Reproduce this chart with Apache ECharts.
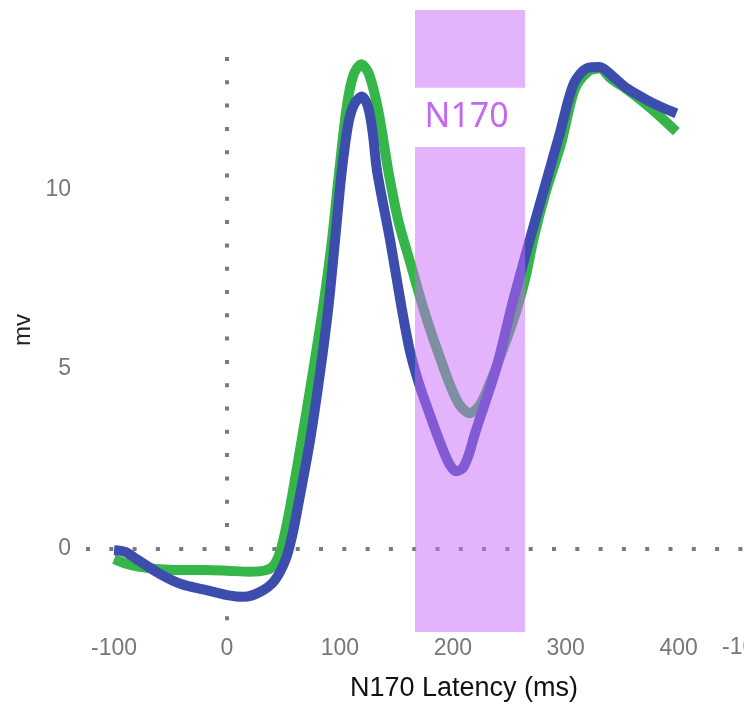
<!DOCTYPE html>
<html><head><meta charset="utf-8">
<script src="https://cdn.jsdelivr.net/npm/echarts@6/dist/echarts.min.js"></script>
<style>html,body{margin:0;padding:0;background:#fff}#c{width:744px;height:714px}</style>
</head><body><div id="c"></div>
<script>
// ---- data ----
const latencyTicks = [-100, 0, 100, 200, 300, 400];
const mvTicks = [0, 5, 10];
const extraTickText = "-100";

const greenTimes  = [-100, -90, -80, -60, -40, -20, 0, 20, 35, 42, 48, 55, 66, 76, 85, 93, 99, 106, 112, 119, 126, 134, 143, 152, 162, 172, 181, 190, 197, 206, 215, 224, 234, 245, 256, 264, 272, 282, 296, 308, 320, 330, 340, 354, 372, 385, 398];
const greenValues = [-0.3, -0.42, -0.5, -0.58, -0.6, -0.6, -0.62, -0.65, -0.6, -0.45, 0.0, 1.0, 3.0, 4.9, 6.7, 8.6, 10.4, 12.3, 13.2, 13.5, 13.2, 12.2, 10.5, 9.1, 8.0, 6.9, 6.0, 5.2, 4.6, 4.0, 3.77, 4.0, 4.7, 5.6, 6.6, 7.5, 8.7, 9.9, 11.3, 12.8, 13.3, 13.38, 13.1, 12.8, 12.36, 12.0, 11.62];

const blueTimes  = [-100, -90, -80, -60, -40, -20, 0, 15, 30, 42, 52, 58, 63, 73.5, 82.4, 89.7, 95.7, 101.6, 107.5, 113, 119.5, 125, 129, 133, 144.4, 154.7, 162, 170, 180, 190, 197, 203, 209, 214, 219.7, 229, 238.9, 253.6, 269.9, 282, 295, 307, 319, 330, 342, 354, 372, 385, 398];
const blueValues = [-0.05, -0.1, -0.3, -0.7, -1.0, -1.15, -1.3, -1.35, -1.2, -0.9, -0.3, 0.4, 1.2, 3.0, 4.9, 6.7, 8.6, 10.5, 11.85, 12.4, 12.6, 12.3, 11.6, 10.5, 8.6, 6.7, 5.5, 4.6, 3.7, 2.85, 2.35, 2.15, 2.25, 2.6, 3.21, 4.1, 5.07, 6.93, 8.8, 10.15, 11.6, 12.95, 13.39, 13.42, 13.15, 12.83, 12.5, 12.3, 12.13];

const n170Window = [166.5, 264];        // ms
const n170LabelGap = [11.19, 12.84];    // mv gap in band where label sits
const n170Label = "N170";

// ---- chart ----
const xMin = -124.9, xMax = 457.9, yMin = -2.33, yMax = 15.01;
const chart = echarts.init(document.getElementById('c'), null, {renderer: 'canvas'});
const toPairs = (xs, ys) => xs.map((x, i) => [x, ys[i]]);
const bandData = [
  [n170Window[0], n170Window[1], yMin, n170LabelGap[0]],
  [n170Window[0], n170Window[1], n170LabelGap[1], yMax]
];
const tickStyle = {color: '#777', fontSize: 23, fontFamily: 'Liberation Sans'};

chart.setOption({
  animation: false,
  grid: {left: 86, right: 0, top: 10, bottom: 82},
  xAxis: {
    type: 'value', min: xMin, max: xMax,
    axisLine: {show: false}, axisTick: {show: false}, splitLine: {show: false},
    axisLabel: Object.assign({customValues: latencyTicks, margin: 5}, tickStyle)
  },
  yAxis: {
    type: 'value', min: yMin, max: yMax,
    axisLine: {show: false}, axisTick: {show: false}, splitLine: {show: false},
    axisLabel: Object.assign({customValues: mvTicks, margin: 15}, tickStyle)
  },
  series: [
    {
      type: 'line', data: [], z: 1, silent: true,
      markLine: {
        silent: true, symbol: 'none', z: 1, animation: false,
        label: {show: false},
        lineStyle: {type: [4, 19.3], width: 4, color: '#7b7b7b', cap: 'butt'},
        emphasis: {disabled: true},
        data: [
          [{coord: [0, 13.70]}, {coord: [0, -2.05]}],
          [{coord: [xMin, 0]}, {coord: [xMax, 0]}]
        ]
      }
    },
    {
      type: 'line', data: toPairs(greenTimes, greenValues), smooth: 0.3,
      showSymbol: false, z: 3, lineStyle: {color: '#35b649', width: 10}, itemStyle: {color: '#35b649'}
    },
    {
      type: 'line', data: toPairs(blueTimes, blueValues), smooth: 0.3,
      showSymbol: false, z: 4, lineStyle: {color: '#3c4dad', width: 10}, itemStyle: {color: '#3c4dad'}
    },
    {
      type: 'custom', z: 10, silent: true, data: bandData,
      encode: {x: [0, 1], y: [2, 3]},
      renderItem: function (params, api) {
        const p0 = api.coord([api.value(0), api.value(3)]);
        const p1 = api.coord([api.value(1), api.value(2)]);
        return {type: 'rect', shape: {x: p0[0], y: p0[1], width: p1[0] - p0[0], height: p1[1] - p0[1]},
          style: {fill: 'rgba(200,103,249,0.5)'}};
      }
    }
  ]
});

const lp = chart.convertToPixel({gridIndex: 0}, [(n170Window[0] + n170Window[1]) / 2 - 3, (n170LabelGap[0] + n170LabelGap[1]) / 2]);
const xp = chart.convertToPixel({gridIndex: 0}, [xMax, yMin]);
chart.setOption({
  graphic: [
    {type: 'text', x: lp[0], y: lp[1], z: 20,
      style: {text: n170Label, fill: '#c468f0', font: '34px "Noto Sans"', textAlign: 'center', textVerticalAlign: 'middle'}},
    {type: 'text', x: 464, y: 689, z: 20,
      style: {text: 'N170 Latency (ms)', fill: '#111', font: '27px "Liberation Sans"', textAlign: 'center', textVerticalAlign: 'middle'}},
    {type: 'text', x: 23, y: 330, rotation: Math.PI / 2, z: 20,
      style: {text: 'mv', fill: '#222', font: '24px "Liberation Sans"', textAlign: 'center', textVerticalAlign: 'middle'}},
    {type: 'text', x: xp[0] + 1, y: xp[1] + 16, z: 20,
      style: {text: extraTickText, fill: '#777', font: '23px "Liberation Sans"', textAlign: 'center', textVerticalAlign: 'middle'}}
  ]
});
</script></body></html>
